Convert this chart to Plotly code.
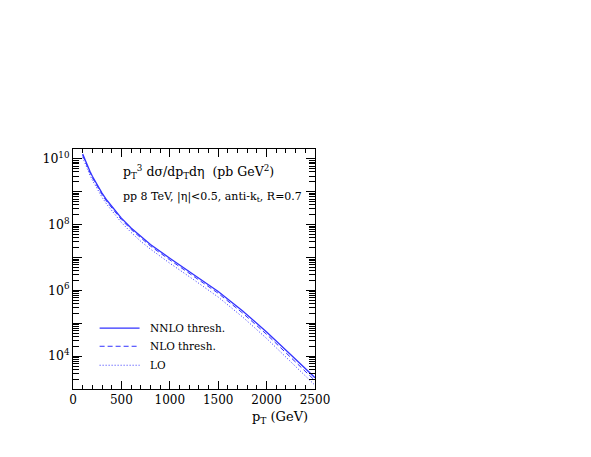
import plotly.graph_objects as go

pt = [100, 125, 150, 175, 200, 250, 300, 350, 400, 450, 500, 600, 700, 800, 1000, 1250, 1500, 1750, 2000, 2250, 2500]
nnlo = [1.41e10, 9.0e9, 6.0e9, 4.2e9, 2.95e9, 1.58e9, 9.1e8, 5.5e8, 3.55e8, 2.3e8, 1.58e8, 7.9e7, 4.3e7, 2.5e7, 9.5e6, 3.0e6, 9.3e5, 2.4e5, 5.4e4, 1.1e4, 2.2e3]
nlo = [1.28e10, 8.2e9, 5.45e9, 3.8e9, 2.67e9, 1.43e9, 8.2e8, 4.95e8, 3.2e8, 2.07e8, 1.42e8, 7.1e7, 3.85e7, 2.23e7, 8.45e6, 2.65e6, 8.15e5, 2.07e5, 4.6e4, 9.1e3, 1.8e3]
lo = [1.1e10, 7.0e9, 4.65e9, 3.2e9, 2.25e9, 1.2e9, 6.8e8, 4.1e8, 2.65e8, 1.7e8, 1.16e8, 5.8e7, 3.1e7, 1.8e7, 6.7e6, 2.08e6, 6.25e5, 1.57e5, 3.45e4, 6.7e3, 1.3e3]

xticks = [0, 500, 1000, 1500, 2000, 2500]
ydecades = [1e3, 1e4, 1e5, 1e6, 1e7, 1e8, 1e9, 1e10]
ylabels = ["", "10<sup>4</sup>", "", "10<sup>6</sup>", "", "10<sup>8</sup>", "", "10<sup>10</sup>"]

blue = "rgb(50,50,255)"
font = "DejaVu Serif"

fig = go.Figure()
fig.add_trace(go.Scatter(x=pt, y=nnlo, mode="lines", line=dict(color=blue, width=1.3), name="NNLO thresh."))
fig.add_trace(go.Scatter(x=pt, y=nlo, mode="lines", line=dict(color=blue, width=1.0, dash="5px,3px"), name="NLO thresh."))
fig.add_trace(go.Scatter(x=pt, y=lo, mode="lines", line=dict(color=blue, width=1.0, dash="1px,2px"), name="LO"))

leg = [("NNLO thresh.", "solid", 1.3, 0.254), ("NLO thresh.", "5px,3px", 1.0, 0.178), ("LO", "1px,2px", 1.0, 0.099)]
for label, dash, w, yy in leg:
    fig.add_shape(type="line", xref="paper", yref="paper", x0=0.11, x1=0.275, y0=yy, y1=yy,
                  line=dict(color=blue, width=w, dash=dash))
    fig.add_annotation(xref="paper", yref="paper", x=0.31, y=yy, text=label, showarrow=False,
                       xanchor="left", yanchor="middle", font=dict(family=font, size=10.5, color="black"))

fig.add_annotation(xref="paper", yref="paper", x=0.2, y=0.905,
                   text="p<sub>T</sub><sup>3</sup> dσ/dp<sub>T</sub>dη  (pb GeV<sup>2</sup>)",
                   showarrow=False, xanchor="left", yanchor="middle", font=dict(family=font, size=12.5, color="black"))
fig.add_annotation(xref="paper", yref="paper", x=0.2, y=0.80,
                   text="pp 8 TeV, |η|<0.5, anti-k<sub>t</sub>, R=0.7",
                   showarrow=False, xanchor="left", yanchor="middle", font=dict(family=font, size=11, color="black"))
fig.add_annotation(xref="paper", yref="paper", x=0.98, y=-0.075,
                   text="p<sub>T</sub> (GeV)", showarrow=False, xanchor="right", yanchor="top",
                   font=dict(family=font, size=13, color="black"))

fig.update_layout(
    width=583, height=449,
    margin=dict(l=65, r=276, t=141, b=68),
    paper_bgcolor="white", plot_bgcolor="white",
    showlegend=False,
    font=dict(family=font, size=12, color="black"),
)
fig.update_xaxes(range=[0, 2500], tickvals=xticks, ticks="inside", ticklen=8, tickcolor="black",
                 showline=True, linecolor="black", linewidth=1, mirror="ticks", showgrid=False, zeroline=False,
                 minor=dict(dtick=100, ticks="inside", ticklen=4, tickcolor="black", showgrid=False),
                 tickfont=dict(family=font, size=12))
fig.update_yaxes(type="log", range=[3, 10.3], tickvals=ydecades, ticktext=ylabels, ticks="inside", ticklen=9,
                 tickcolor="black", showline=True, linecolor="black", linewidth=1, mirror="ticks",
                 showgrid=False, zeroline=False,
                 minor=dict(dtick="D1", ticks="inside", ticklen=6, tickcolor="black", showgrid=False),
                 tickfont=dict(family=font, size=12.5))

fig.write_html("out.html")
